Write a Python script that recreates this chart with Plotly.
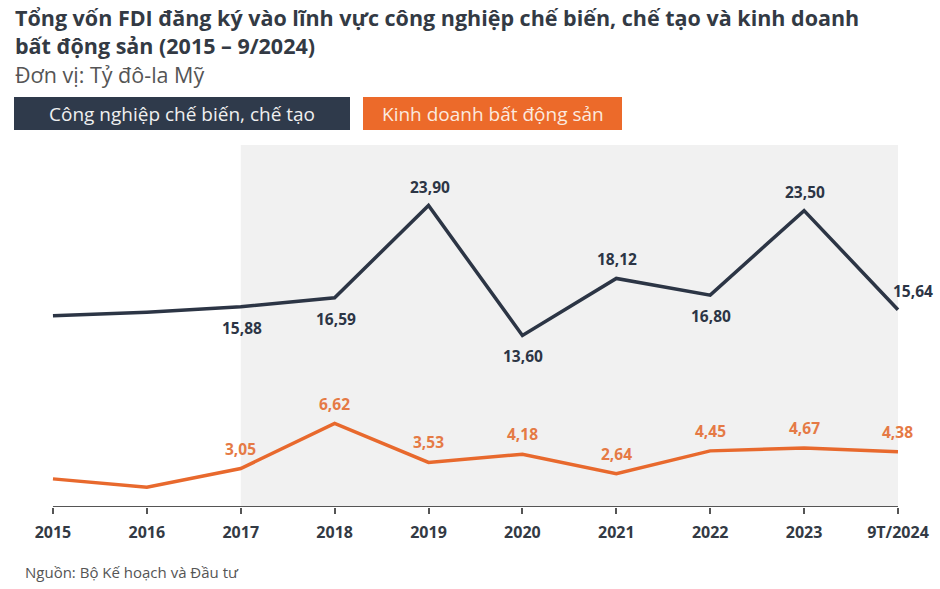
import plotly.graph_objects as go

years = ["2015", "2016", "2017", "2018", "2019", "2020", "2021", "2022", "2023", "9T/2024"]
manufacturing = [15.16, 15.45, 15.88, 16.59, 23.90, 13.60, 18.12, 16.80, 23.50, 15.64]
real_estate = [2.23, 1.57, 3.05, 6.62, 3.53, 4.18, 2.64, 4.45, 4.67, 4.38]
# which points carry a value label (2015 and 2016 are unlabeled in the source)
labeled = [False, False, True, True, True, True, True, True, True, True]
# label placement for manufacturing: True = above the point, False = below
manu_above = [False, False, False, False, True, False, True, False, True, True]

title_l1 = "Tổng vốn FDI đăng ký vào lĩnh vực công nghiệp chế biến, chế tạo và kinh doanh"
title_l2 = "bất động sản (2015 – 9/2024)"
subtitle = "Đơn vị: Tỷ đô-la Mỹ"
legend1 = "Công nghiệp chế biến, chế tạo"
legend2 = "Kinh doanh bất động sản"
source = "Nguồn: Bộ Kế hoạch và Đầu tư"

DARK = "#2c3545"
ORANGE = "#e8692d"
ORANGE_TXT = "#e57a45"
FONT = "Open Sans"

W, H = 940, 589
ML, MR, MT, MB = 40, 30, 145, 82


def px(x):
    return (x - ML) / (W - ML - MR)


def py(y):
    return (H - MB - y) / (H - MT - MB)


xs = list(range(len(years)))

fig = go.Figure()
fig.add_trace(go.Scatter(x=xs, y=manufacturing, mode="lines",
                         line=dict(color=DARK, width=3.5), hoverinfo="skip"))
fig.add_trace(go.Scatter(x=xs, y=real_estate, mode="lines",
                         line=dict(color=ORANGE, width=3.5), hoverinfo="skip"))


def fmt(v):
    return f"{v:.2f}".replace(".", ",")


annotations = []
for i, (v, lab, up) in enumerate(zip(manufacturing, labeled, manu_above)):
    if not lab:
        continue
    last = i == len(years) - 1
    annotations.append(dict(x=i, y=v, xref="x", yref="y", text=fmt(v), showarrow=False,
                            xanchor="center", yanchor="middle",
                            xshift=15 if last else 1,
                            yshift=19 if up else -21,
                            font=dict(family=FONT, size=15.5, color=DARK, weight=700)))
for i, (v, lab) in enumerate(zip(real_estate, labeled)):
    if not lab:
        continue
    annotations.append(dict(x=i, y=v, xref="x", yref="y", text=fmt(v), showarrow=False,
                            xanchor="center", yanchor="middle", yshift=20,
                            font=dict(family=FONT, size=15.5, color=ORANGE_TXT, weight=700)))

# titles and texts
annotations += [
    dict(x=px(13), y=py(18), xref="paper", yref="paper", text=title_l1, showarrow=False,
         xanchor="left", yanchor="middle",
         font=dict(family=FONT, size=21.5, color="#333a44", weight=700)),
    dict(x=px(13), y=py(45), xref="paper", yref="paper", text=title_l2, showarrow=False,
         xanchor="left", yanchor="middle",
         font=dict(family=FONT, size=21.5, color="#333a44", weight=700)),
    dict(x=px(13), y=py(75), xref="paper", yref="paper", text=subtitle, showarrow=False,
         xanchor="left", yanchor="middle",
         font=dict(family=FONT, size=21.5, color="#555555")),
    dict(x=px(182), y=py(114), xref="paper", yref="paper", text=legend1, showarrow=False,
         xanchor="center", yanchor="middle",
         font=dict(family=FONT, size=19, color="#f0f0f0")),
    dict(x=px(493), y=py(114), xref="paper", yref="paper", text=legend2, showarrow=False,
         xanchor="center", yanchor="middle",
         font=dict(family=FONT, size=19, color="#fbe9df")),
    dict(x=px(23), y=py(572), xref="paper", yref="paper", text=source, showarrow=False,
         xanchor="left", yanchor="middle",
         font=dict(family=FONT, size=15, color="#555555")),
]

shapes = [
    dict(type="rect", xref="x", yref="paper", x0=2, x1=len(years) - 1, y0=0, y1=1,
         fillcolor="#f1f1f1", line=dict(width=0), layer="below"),
    dict(type="line", xref="x", yref="y", x0=0, x1=len(years) - 1, y0=0, y1=0,
         line=dict(color="#555555", width=2)),
    dict(type="rect", xref="paper", yref="paper", x0=px(14), x1=px(350), y0=py(130), y1=py(97),
         fillcolor="#2f3a4b", line=dict(width=0)),
    dict(type="rect", xref="paper", yref="paper", x0=px(363), x1=px(622), y0=py(130), y1=py(97),
         fillcolor="#ec6a2a", line=dict(width=0)),
]

fig.update_layout(
    width=W, height=H,
    margin=dict(l=ML, r=MR, t=MT, b=MB),
    paper_bgcolor="white", plot_bgcolor="white",
    showlegend=False,
    annotations=annotations, shapes=shapes,
    xaxis=dict(range=[-0.138, len(years) - 1 + 0.128], tickvals=xs, ticktext=years,
               showgrid=False, zeroline=False, showline=False,
               ticks="outside", ticklen=6, tickwidth=2, tickcolor="#555555",
               ticklabelstandoff=5,
               tickfont=dict(family=FONT, size=16, color="#333a44", weight=700),
               fixedrange=True),
    yaxis=dict(range=[0, 28.7], visible=False, fixedrange=True),
)

fig.write_html("out.html", config={"displayModeBar": False},
               post_script="document.body.style.margin='0';document.body.style.overflow='hidden';")
